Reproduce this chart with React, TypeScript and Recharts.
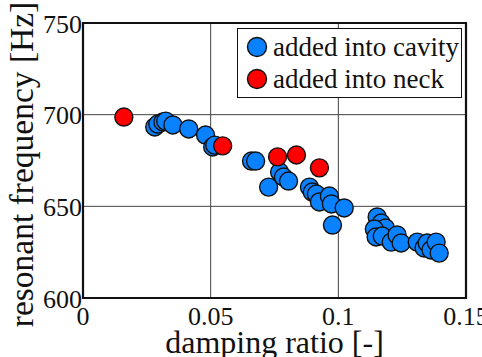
import React from "react";
import {
  ScatterChart,
  Scatter,
  XAxis,
  YAxis,
  CartesianGrid,
  ReferenceArea,
} from "recharts";

// ─── Data ─────────────────────────────────────────────────────────────────────

const cavityDamping = [
  0.0281, 0.0293, 0.0313, 0.0324, 0.0352, 0.0414, 0.048, 0.0508, 0.0516,
  0.066, 0.0676, 0.0727, 0.077, 0.0785, 0.0805, 0.0887, 0.0898, 0.0914,
  0.0926, 0.0965, 0.0973, 0.1023, 0.0977, 0.1152, 0.1168, 0.1184, 0.1141,
  0.1148, 0.1172, 0.1207, 0.123, 0.1246, 0.1309, 0.1336, 0.1348, 0.1363,
  0.1383, 0.1395,
];
const cavityFreq = [
  693.3, 694.9, 696, 696.5, 694.4, 692.2, 688.9, 682.4, 683.4,
  674.7, 674.7, 660.5, 668.7, 666, 663.8, 660.5, 657.8, 656.7,
  652.4, 655.6, 651.3, 649.1, 639.8, 644.2, 640.9, 638.2, 637.6,
  633.3, 633.8, 630.5, 634.4, 630, 630.5, 627.3, 630, 626.2,
  630.5, 624.5,
];

const neckDamping = [0.016, 0.0547, 0.0762, 0.0836, 0.0926];
const neckFreq = [698.7, 683, 677, 678, 671];

const xTicks = [0, 0.05, 0.1, 0.15];
const yTicks = [600, 650, 700, 750];

const seriesNames = ["added into cavity", "added into neck"];

const cavityData = cavityDamping.map((x, i) => ({ x, y: cavityFreq[i] }));
const neckData = neckDamping.map((x, i) => ({ x, y: neckFreq[i] }));

// ─── Styling ──────────────────────────────────────────────────────────────────

const FONT = "Liberation Serif";
const INK = "#111";
const BLUE = "#0a82ff";
const RED = "#ff0000";
const R = 9;

const dot = (fill: string) => (props: any) => (
  <circle cx={props.cx} cy={props.cy} r={R} fill={fill} stroke={INK} strokeWidth={1.4} />
);

const XTick = ({ x, payload }: any) => (
  <text x={x} y={325} textAnchor="middle" style={{ fontFamily: FONT, fontSize: 26 }} fill={INK}>
    {String(payload.value)}
  </text>
);

const YTick = ({ y, payload }: any) => (
  <text x={82} y={y + 9.5} textAnchor="end" style={{ fontFamily: FONT, fontSize: 26 }} fill={INK}>
    {payload.value}
  </text>
);

const XTitle = ({ viewBox }: any) => (
  <text
    x={viewBox.x + viewBox.width / 2}
    y={353}
    textAnchor="middle"
    style={{ fontFamily: FONT, fontSize: 32 }}
    fill={INK}
  >
    damping ratio [-]
  </text>
);

// rotated title, baseline on the right-hand side of the glyphs
const YTitle = ({ viewBox }: any) => {
  const cy = viewBox.y + viewBox.height / 2 + 4;
  return (
    <text
      x={33}
      y={cy}
      transform={`rotate(-90, 33, ${cy})`}
      textAnchor="middle"
      style={{ fontFamily: FONT, fontSize: 33.5 }}
      fill={INK}
    >
      resonant frequency [Hz]
    </text>
  );
};

const LegendBox = () => (
  <div style={s.legend}>
    {seriesNames.map((name, i) => (
      <div key={name} style={s.legendRow}>
        <svg width={22} height={22} style={{ marginRight: 5 }}>
          <circle cx={11} cy={11} r={R + 0.5} fill={i === 0 ? BLUE : RED} stroke={INK} strokeWidth={1.4} />
        </svg>
        <span>{name}</span>
      </div>
    ))}
  </div>
);

export default function App() {
  return (
    <div style={s.page}>
      <ScatterChart
        width={482}
        height={357}
        margin={{ top: 23, right: 16, bottom: 0, left: 0 }}
      >
        <CartesianGrid stroke="#444" strokeWidth={1} />
        <XAxis
          type="number"
          dataKey="x"
          domain={[0, 0.15]}
          ticks={xTicks}
          height={59}
          axisLine={false}
          tickLine={false}
          tick={<XTick />}
          interval={0}
          label={<XTitle />}
        />
        <YAxis
          type="number"
          dataKey="y"
          domain={[600, 750]}
          ticks={yTicks}
          width={83}
          axisLine={false}
          tickLine={false}
          tick={<YTick />}
          interval={0}
          label={<YTitle />}
        />
        {/* heavy plot frame */}
        <ReferenceArea
          x1={0}
          x2={0.15}
          y1={600}
          y2={750}
          fill="none"
          stroke={INK}
          strokeWidth={2.2}
          ifOverflow="visible"
        />
        <Scatter data={cavityData} shape={dot(BLUE)} isAnimationActive={false} />
        <Scatter data={neckData} shape={dot(RED)} isAnimationActive={false} />
      </ScatterChart>
      <LegendBox />
    </div>
  );
}

const s: Record<string, React.CSSProperties> = {
  page: { position: "absolute", left: 0, top: 0, width: 482, height: 357, background: "#fff", overflow: "hidden" },
  legend: {
    position: "absolute",
    left: 237,
    top: 28,
    width: 225,
    height: 70,
    boxSizing: "border-box",
    border: "1.6px solid #111",
    background: "#fff",
    padding: "2px 0 0 8px",
    fontFamily: FONT,
    fontSize: 27,
    color: INK,
    lineHeight: "32px",
  },
  legendRow: { display: "flex", alignItems: "center", height: 32, whiteSpace: "nowrap" },
};
